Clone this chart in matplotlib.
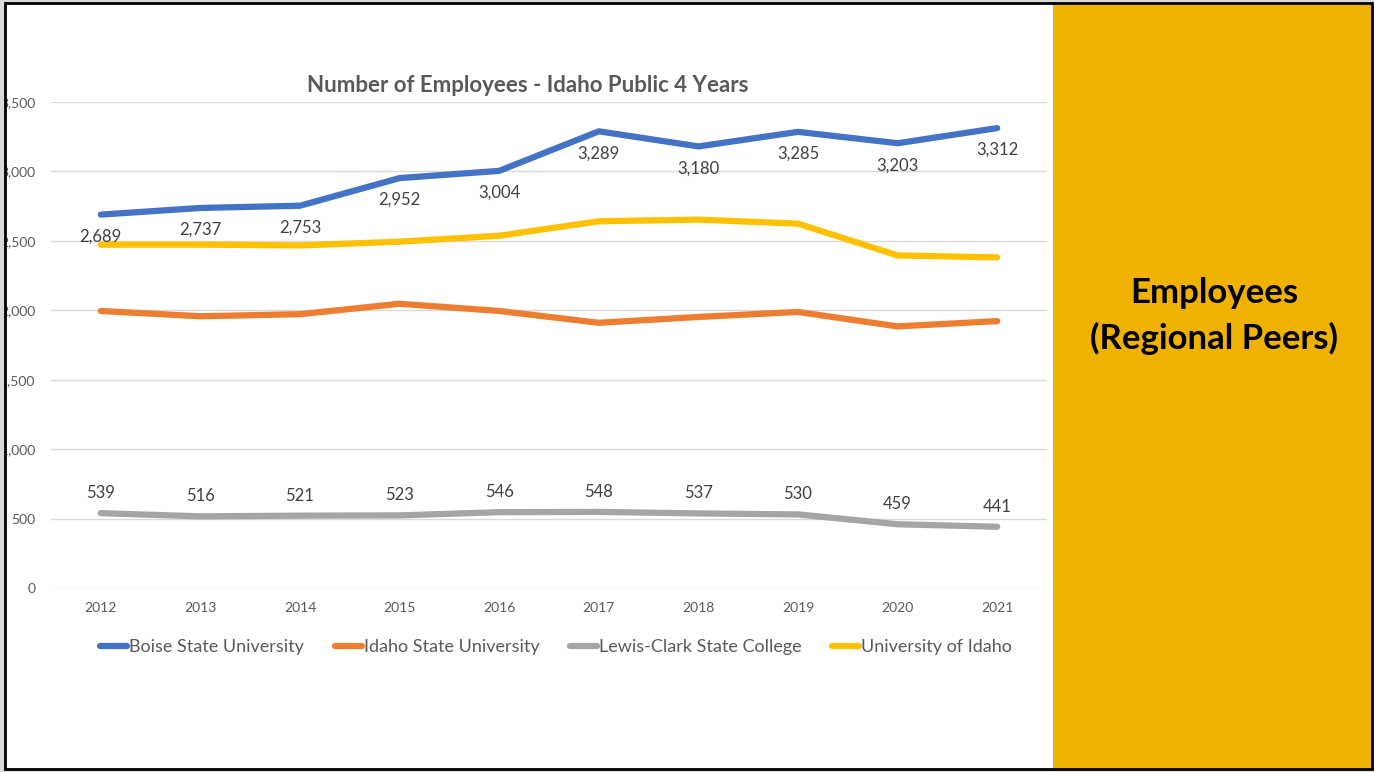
import numpy as np
import matplotlib.pyplot as plt
from matplotlib.patches import Rectangle

plt.rcParams['font.family'] = ['Lato', 'DejaVu Sans']

years = ['2012', '2013', '2014', '2015', '2016', '2017', '2018', '2019', '2020', '2021']
boise = [2689, 2737, 2753, 2952, 3004, 3289, 3180, 3285, 3203, 3312]
idaho_state = [1995, 1957, 1972, 2047, 1995, 1910, 1952, 1988, 1884, 1922]
lewis_clark = [539, 516, 521, 523, 546, 548, 537, 530, 459, 441]
u_idaho = [2473, 2473, 2467, 2494, 2537, 2641, 2653, 2624, 2395, 2381]

W, H = 1374, 772
fig = plt.figure(figsize=(W / 100, H / 100), dpi=100)
fig.patch.set_facecolor('#d9d9d9')

# white slide + gold side panel
fig.patches.append(Rectangle((6 / W, 4 / H), 1047 / W, 765 / H, transform=fig.transFigure,
                             facecolor='white', edgecolor='none', zorder=-5))
fig.patches.append(Rectangle((1053 / W, 4 / H), 318 / W, 765 / H, transform=fig.transFigure,
                             facecolor='#EFB200', edgecolor='none', zorder=-5))

ax = fig.add_axes([51 / W, (H - 588) / H, 996 / W, 486 / H])
ax.set_facecolor('none')
x = np.arange(len(years))

series = [('Boise State University', boise, '#4472C4'),
          ('Idaho State University', idaho_state, '#ED7D31'),
          ('Lewis-Clark State College', lewis_clark, '#A5A5A5'),
          ('University of Idaho', u_idaho, '#FFC000')]
for name, vals, col in series:
    ax.plot(x, vals, color=col, lw=4.5, solid_capstyle='round', label=name, zorder=3)

for xi, v in zip(x, boise):
    ax.annotate(f'{v:,}', (xi, v), xytext=(0, -22), textcoords='offset pixels',
                ha='center', va='center', fontsize=12, color='#404040', zorder=4)
for xi, v in zip(x, lewis_clark):
    ax.annotate(f'{v:,}', (xi, v), xytext=(0, 20), textcoords='offset pixels',
                ha='center', va='center', fontsize=12, color='#404040', zorder=4)

ax.set_xlim(-0.5, len(years) - 0.5)
ax.set_ylim(0, 3500)
ax.set_yticks(np.arange(0, 3501, 500))
ax.set_yticklabels([f'{t:,}' for t in range(0, 3501, 500)])
ax.set_xticks(x)
ax.set_xticklabels(years)
ax.grid(axis='y', color='#d9d9d9', lw=1)
ax.set_axisbelow(True)
for s in ax.spines.values():
    s.set_visible(False)
ax.tick_params(length=0, labelsize=10, colors='#595959', pad=10)
ax.tick_params(axis='y', pad=11)

fig.text(528 / W, 1 - 85 / H, 'Number of Employees - Idaho Public 4 Years',
         ha='center', va='center', fontsize=16, fontweight='bold', color='#595959')

fig.legend(loc='center', bbox_to_anchor=(556 / W, 1 - 647 / H), ncol=4, frameon=False,
           fontsize=13, handlelength=1.5, handletextpad=0.1, columnspacing=1.7,
           labelcolor='#595959')

fig.text(1214 / W, 1 - 316 / H, 'Employees\n(Regional Peers)', ha='center', va='center',
         fontsize=25, fontweight='bold', color='black', linespacing=1.45)

# slide border on top, clips the y labels like the screenshot
fig.patches.append(Rectangle((0, 0), 5 / W, 1, transform=fig.transFigure,
                             facecolor='#d9d9d9', edgecolor='none', zorder=20))
fig.patches.append(Rectangle((5 / W, 3 / H), 1367 / W, 766 / H, transform=fig.transFigure,
                             facecolor='none', edgecolor='black', lw=2, zorder=21))

fig.savefig('out.png', dpi=100, facecolor=fig.get_facecolor())
